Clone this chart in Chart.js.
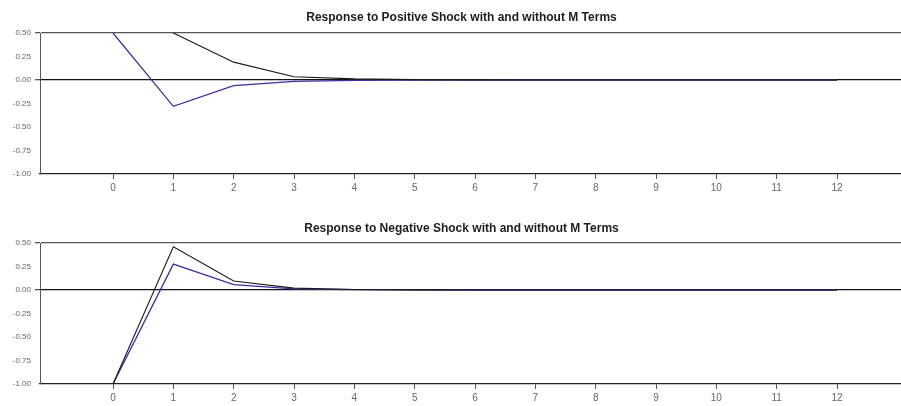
<!DOCTYPE html>
<html>
<head>
<meta charset="utf-8">
<script src="https://cdn.jsdelivr.net/npm/chart.js@4.4.1/dist/chart.umd.min.js"></script>
<style>
  html, body { margin: 0; padding: 0; background: #fff; }
  #wrap { position: relative; width: 901px; height: 406px; }
  .panel { position: absolute; left: 0; width: 901px; height: 203px; }
  #p1 { top: 0; }
  #p2 { top: 203px; }
</style>
</head>
<body>
<div id="wrap">
  <div class="panel" id="p1"><canvas id="c1"></canvas></div>
  <div class="panel" id="p2"><canvas id="c2"></canvas></div>
</div>
<script>
// Horizon (periods after the shock)
const periods = [0, 1, 2, 3, 4, 5, 6, 7, 8, 9, 10, 11, 12];

// Positive shock responses
const posWithM    = [1.00, 0.50, 0.19, 0.035, 0.012, 0.004, 0.001, 0, 0, 0, 0, 0, 0];
const posWithoutM = [0.50, -0.28, -0.06, -0.015, -0.004, -0.001, 0, 0, 0, 0, 0, 0, 0];

// Negative shock responses
const negWithM    = [-1.00, 0.46, 0.096, 0.02, 0.005, 0.001, 0, 0, 0, 0, 0, 0, 0];
const negWithoutM = [-1.00, 0.275, 0.058, 0.013, 0.003, 0.001, 0, 0, 0, 0, 0, 0, 0];

const yTicks = [0.5, 0.25, 0, -0.25, -0.5, -0.75, -1.0];

const titles = [
  'Response to Positive Shock with and without M Terms',
  'Response to Negative Shock with and without M Terms'
];

const FONT = '"Liberation Sans Narrow", "Arial Narrow", "Liberation Sans", Arial, sans-serif';

function pts(vals) {
  return periods.map((p, i) => ({ x: p, y: vals[i] }));
}

// Panel heading, centred a little right of the canvas middle
const panelTitle = {
  id: 'panelTitle',
  afterDraw(chart, args, opts) {
    const ctx = chart.ctx;
    ctx.save();
    ctx.fillStyle = '#1e1e1e';
    ctx.font = 'bold 12px ' + FONT;
    ctx.textAlign = 'center';
    ctx.textBaseline = 'middle';
    ctx.fillText(opts.text, 461.5, opts.y);
    ctx.restore();
  }
};

function makeChart(id, title, black, blue, topPad, titleY, xHeight) {
  return new Chart(document.getElementById(id), {
    type: 'line',
    data: {
      datasets: [
        {
          label: 'with M',
          data: pts(black),
          borderColor: '#1a1a1a',
          borderWidth: 1.1,
          pointRadius: 0,
          tension: 0
        },
        {
          label: 'without M',
          data: pts(blue),
          borderColor: '#3a2f9e',
          borderWidth: 1.3,
          pointRadius: 0,
          tension: 0
        }
      ]
    },
    plugins: [panelTitle],
    options: {
      responsive: true,
      maintainAspectRatio: false,
      animation: false,
      layout: { padding: { left: 0, right: 0, top: topPad, bottom: 0 } },
      plugins: {
        legend: { display: false },
        tooltip: { enabled: false },
        title: { display: false },
        panelTitle: { text: title, y: titleY }
      },
      scales: {
        x: {
          type: 'linear',
          min: -1.21,
          max: 13.06,
          afterBuildTicks: (s) => { s.ticks = periods.map(v => ({ value: v })); },
          afterFit: (s) => { s.height = xHeight; },
          border: { display: true, color: '#222', width: 1.2 },
          grid: {
            drawOnChartArea: false,
            drawTicks: true,
            tickLength: 5,
            tickColor: '#555'
          },
          ticks: {
            autoSkip: false,
            maxRotation: 0,
            padding: 3,
            color: '#666',
            font: { family: FONT, size: 10 },
            callback: (v) => String(v)
          }
        },
        y: {
          min: -1,
          max: 0.5,
          afterBuildTicks: (s) => { s.ticks = yTicks.map(v => ({ value: v })); },
          afterFit: (s) => { s.width = 40; },
          border: { display: true, color: '#555', width: 1 },
          grid: {
            drawTicks: true,
            tickLength: 5,
            tickColor: '#555',
            lineWidth: (c) => (c.tick && (c.tick.value === 0 || c.tick.value === 0.5)) ? 1.3 : 0,
            color: (c) => {
              if (!c.tick) return 'rgba(0,0,0,0)';
              if (c.tick.value === 0) return '#111';
              if (c.tick.value === 0.5) return '#555';
              return 'rgba(0,0,0,0)';
            }
          },
          ticks: {
            padding: 4,
            color: '#666',
            font: { family: FONT, size: 8 },
            callback: (v) => v.toFixed(2)
          }
        }
      }
    }
  });
}

makeChart('c1', titles[0], posWithM, posWithoutM, 33, 18, 29);
makeChart('c2', titles[1], negWithM, negWithoutM, 40, 26, 22);
</script>
</body>
</html>
